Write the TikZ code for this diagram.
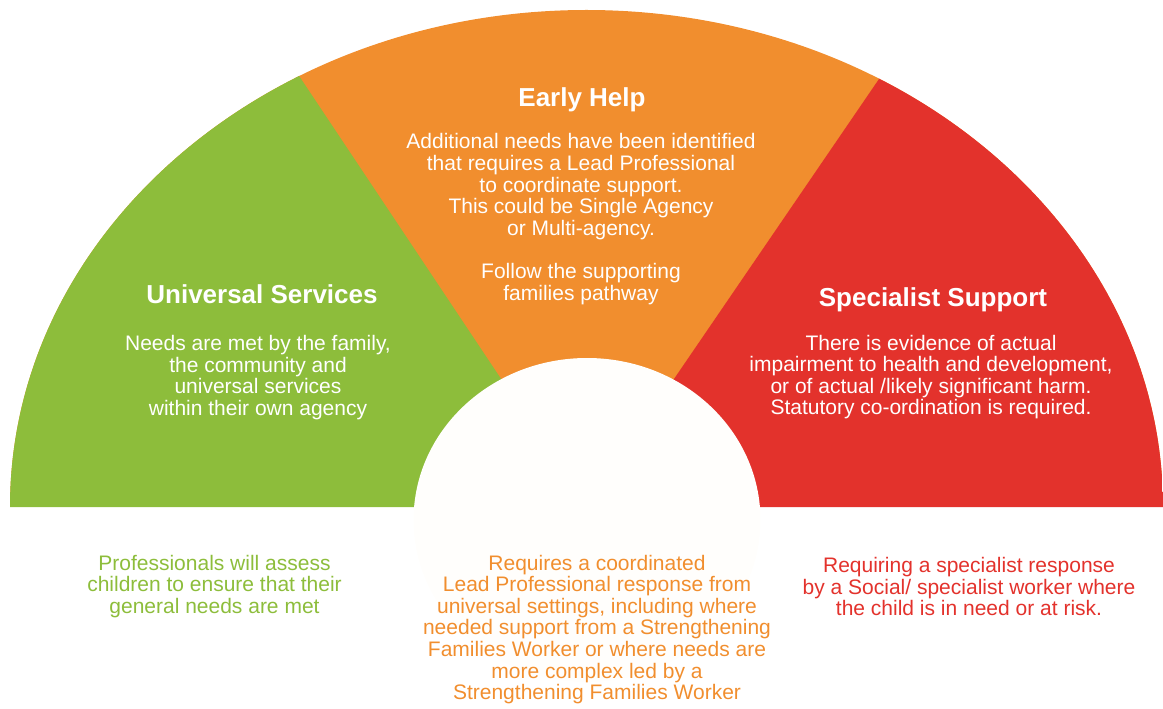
\documentclass[tikz,border=0pt]{standalone}
\usepackage{fontspec}
\setmainfont{Liberation Sans}

\definecolor{univgreen}{RGB}{141,189,59}
\definecolor{helporange}{RGB}{241,142,46}
\definecolor{specred}{RGB}{227,50,44}
\definecolor{hubwhite}{RGB}{255,254,252}

\tikzset{
	heading/.style={font=\fontsize{19.5}{22}\selectfont\bfseries, text=white, inner sep=0pt},
	bodytext/.style={font=\fontsize{15.75}{16.2}\selectfont, align=center, inner sep=0pt},
}

\begin{document}
\begin{tikzpicture}[x=0.75pt, y=0.75pt]
	\useasboundingbox (0,0) rectangle (1163,708);
	
	% Centre of the half-ellipse and the two cut lines
	\coordinate (centre) at (586.5,201);
	\coordinate (leftcut) at (157.8,844);
	\coordinate (rightcut) at (1024.2,841.5);
	
	% Coloured bands
	\begin{scope}
		\clip (centre) ellipse [x radius=432.375pt, y radius=372.75pt];
		\fill[helporange] (-50,201) rectangle (1250,900);
		\fill[univgreen] (centre) -- (leftcut) -- (-50,844) -- (-50,201) -- cycle;
		\fill[specred] (centre) -- (rightcut) -- (1250,844) -- (1250,201) -- cycle;
	\end{scope}
	
	% Inner hub
	\fill[hubwhite] (587,188) ellipse [x radius=130.1pt, y radius=121.5pt];
	
	% Universal Services
	\node[heading] (univtitle) at (262,414) {Universal Services};
	\node[bodytext, text=white] (univtext) at (258,330.5) {Needs are met by the family,\\
		the community and\\ universal services\\ within their own agency};
	
	% Early Help
	\node[heading] (helptitle) at (582,608) {Early Help};
	\node[bodytext, text=white] (helptext) at (581,489) {Additional needs have been identified\\
		that requires a Lead Professional\\ to coordinate support.\\
		This could be Single Agency\\ or Multi-agency.\\[16.2pt]
		Follow the supporting\\ families pathway};
	
	% Specialist Support
	\node[heading] (spectitle) at (933,408) {Specialist Support};
	\node[bodytext, text=white] (spectext) at (931,331) {There is evidence of actual\\
		impairment to health and development,\\ or of actual /likely significant harm.\\
		Statutory co-ordination is required.};
	
	% Notes under the bands
	\node[bodytext, text=univgreen] (univnote) at (214.5,121.5) {Professionals will assess\\
		children to ensure that their\\ general needs are met};
	\node[bodytext, text=helporange] (helpnote) at (597,78.5) {Requires a coordinated\\
		Lead Professional response from\\ universal settings, including where\\
		needed support from a Strengthening\\ Families Worker or where needs are\\
		more complex led by a\\ Strengthening Families Worker};
	\node[bodytext, text=specred] (specnote) at (969,121.5) {Requiring a specialist response\\
		by a Social/ specialist worker where\\ the child is in need or at risk.};
	
\end{tikzpicture}
\end{document}
